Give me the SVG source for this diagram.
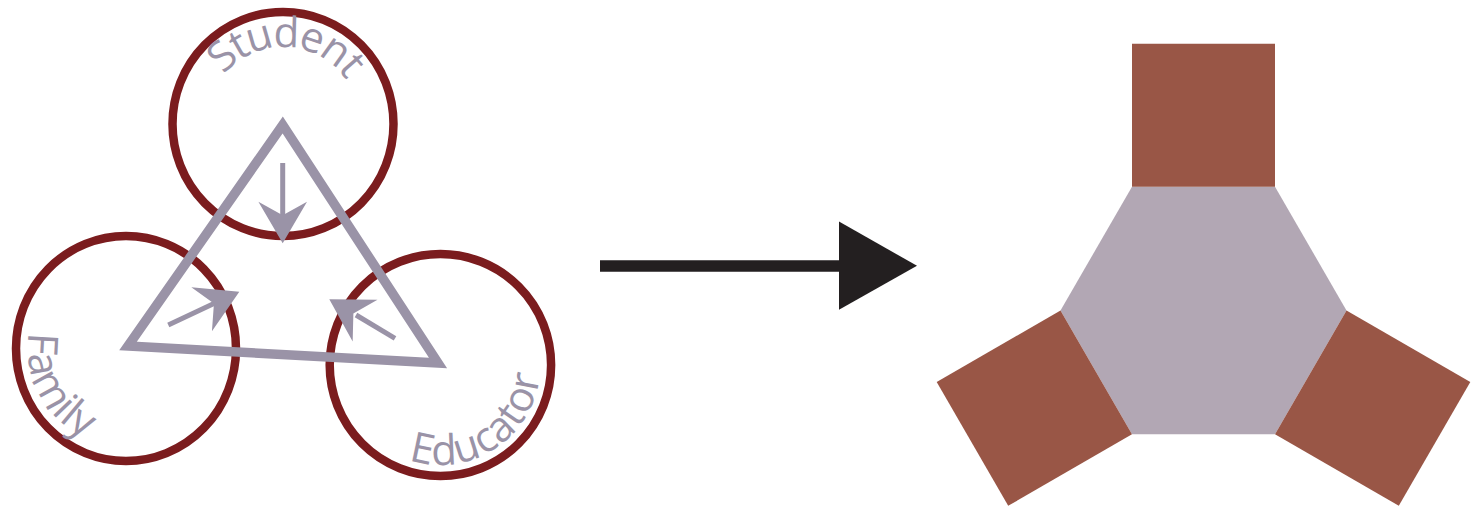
<svg xmlns="http://www.w3.org/2000/svg" width="1475" height="506" viewBox="0 0 1475 506">
  <style>
    .ring { fill: none; stroke: #7b1c1e; stroke-width: 8.5; }
    .lbl { fill: #9a93a7; font-family: "Open Sans", "Liberation Sans", sans-serif; font-size: 42px; font-weight: 500; }
    .tri { fill: none; stroke: #9a93a7; stroke-width: 9.5; stroke-linejoin: miter; stroke-miterlimit: 10; }
    .shaft { stroke: #9a93a7; stroke-width: 5; fill: none; }
    .head { fill: #9a93a7; }
    .sq { fill: #995646; }
    .hex { fill: #b2a7b4; }
  </style>
  <defs>
    <path id="ah" d="M0,0 L-41.6,-24.3 L-28,0 L-41.6,24.3 Z"/>
    <path id="pStudent" d="M206,124 A77,77 0 0 1 360,124"/>
    <path id="pFamily" d="M50.9,285.5 A98,98 0 0 0 195.3,417.8"/>
    <path id="pEducator" d="M346.4,399.2 A100,100 0 1 0 504.7,288.4"/>
  </defs>

  <g id="node-student">
    <ellipse class="ring" cx="283" cy="124" rx="110.5" ry="112"/>
    <text class="lbl" text-anchor="middle" letter-spacing="-2"><textPath href="#pStudent" startOffset="51%">Student</textPath></text>
  </g>
  <g id="node-family">
    <ellipse class="ring" cx="126" cy="348.5" rx="110" ry="112.5"/>
    <text class="lbl" text-anchor="middle" letter-spacing="0.5"><textPath href="#pFamily" startOffset="39%">Family</textPath></text>
  </g>
  <g id="node-educator">
    <ellipse class="ring" cx="440.4" cy="365" rx="110.7" ry="111"/>
    <text class="lbl" text-anchor="middle" letter-spacing="0.5"><textPath href="#pEducator" startOffset="49%">Educator</textPath></text>
  </g>

  <g id="connectors">
    <polygon class="tri" points="282.7,125 128,346 438,363"/>
    <line class="shaft" x1="282.7" y1="163" x2="282.7" y2="218"/>
    <use href="#ah" class="head" transform="translate(282.7,243.3) rotate(90)"/>
    <line class="shaft" x1="168.3" y1="325" x2="215" y2="303"/>
    <use href="#ah" class="head" transform="translate(239.3,291.7) rotate(-25.1)"/>
    <line class="shaft" x1="395" y1="338.3" x2="356" y2="315"/>
    <use href="#ah" class="head" transform="translate(329.3,299.3) rotate(210.7)"/>
    <g id="transform-arrow">
      <line x1="600" y1="266" x2="842" y2="266" stroke="#231f20" stroke-width="11.5"/>
      <polygon points="839,221.5 917,265.8 839,309.7" fill="#231f20"/>
    </g>
  </g>

  <g id="hexagon-model">
    <polygon id="hex-core" class="hex" points="1132,186.7 1275,186.7 1346.5,310.5 1275,434.3 1132,434.3 1060.5,310.5"/>
    <polygon id="square-top" class="sq" points="1132,43.7 1275,43.7 1275,186.7 1132,186.7"/>
    <polygon id="square-left" class="sq" points="1060.5,310.5 1132,434.3 1008.2,505.8 936.7,382"/>
    <polygon id="square-right" class="sq" points="1346.5,310.5 1275,434.3 1398.8,505.8 1470.3,382"/>
  </g>
</svg>
